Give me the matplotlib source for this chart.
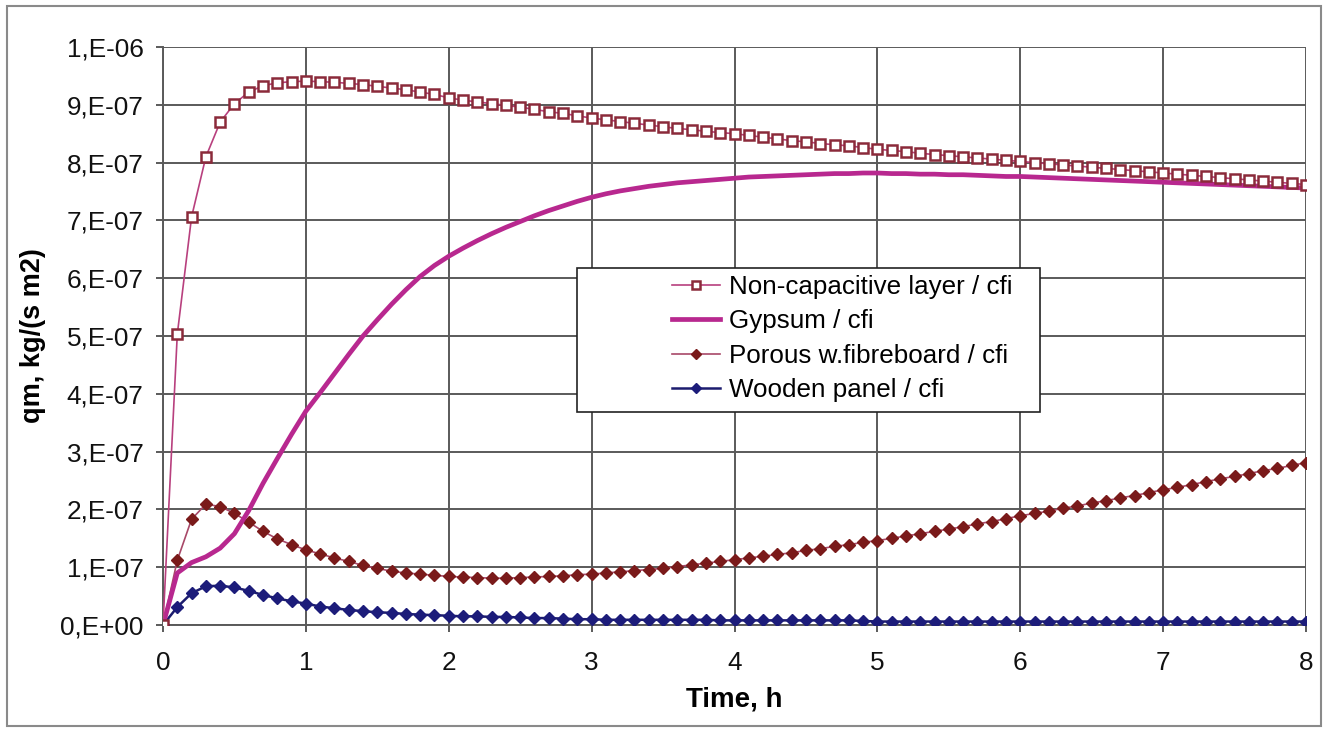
import numpy as np
import matplotlib
matplotlib.use("Agg")
import matplotlib.pyplot as plt
from matplotlib.patches import Rectangle

# ---- data (values in units of 1e-7 kg/(s m2)) ----
time_h = np.linspace(0, 8, 81)

non_capacitive = [
    0.00, 5.03, 7.06, 8.10, 8.70, 9.02, 9.22, 9.33, 9.38, 9.40,
    9.41, 9.40, 9.39, 9.37, 9.35, 9.32, 9.29, 9.26, 9.22, 9.18,
    9.12, 9.08, 9.05, 9.02, 8.99, 8.96, 8.92, 8.88, 8.85, 8.81,
    8.77, 8.74, 8.71, 8.68, 8.65, 8.62, 8.59, 8.57, 8.54, 8.52,
    8.50, 8.47, 8.44, 8.41, 8.38, 8.36, 8.33, 8.31, 8.29, 8.26,
    8.23, 8.21, 8.19, 8.16, 8.14, 8.12, 8.10, 8.08, 8.06, 8.04,
    8.02, 8.00, 7.98, 7.96, 7.94, 7.92, 7.90, 7.88, 7.86, 7.84,
    7.82, 7.80, 7.78, 7.76, 7.74, 7.72, 7.70, 7.68, 7.66, 7.64,
    7.62]

gypsum = [
    0.00, 0.90, 1.08, 1.18, 1.33, 1.58, 1.98, 2.45, 2.88, 3.30,
    3.70, 4.02, 4.35, 4.68, 5.00, 5.28, 5.55, 5.80, 6.03, 6.22,
    6.38, 6.52, 6.65, 6.77, 6.88, 6.98, 7.08, 7.17, 7.25, 7.33,
    7.40, 7.46, 7.51, 7.55, 7.59, 7.62, 7.65, 7.67, 7.69, 7.71,
    7.73, 7.75, 7.76, 7.77, 7.78, 7.79, 7.80, 7.81, 7.81, 7.82,
    7.82, 7.81, 7.81, 7.80, 7.80, 7.79, 7.79, 7.78, 7.77, 7.76,
    7.76, 7.75, 7.74, 7.73, 7.72, 7.71, 7.70, 7.69, 7.68, 7.67,
    7.66, 7.65, 7.64, 7.63, 7.62, 7.61, 7.60, 7.59, 7.58, 7.57,
    7.56]

porous_fibreboard = [
    0.00, 1.12, 1.83, 2.09, 2.05, 1.93, 1.78, 1.62, 1.49, 1.39,
    1.30, 1.23, 1.16, 1.10, 1.03, 0.98, 0.93, 0.90, 0.88, 0.86,
    0.84, 0.83, 0.82, 0.81, 0.81, 0.82, 0.83, 0.84, 0.85, 0.87,
    0.88, 0.90, 0.92, 0.94, 0.96, 0.98, 1.01, 1.04, 1.07, 1.10,
    1.13, 1.16, 1.19, 1.22, 1.25, 1.29, 1.32, 1.36, 1.39, 1.43,
    1.46, 1.50, 1.54, 1.58, 1.62, 1.66, 1.70, 1.75, 1.79, 1.84,
    1.89, 1.93, 1.97, 2.02, 2.06, 2.11, 2.15, 2.20, 2.24, 2.29,
    2.34, 2.38, 2.43, 2.48, 2.53, 2.57, 2.62, 2.67, 2.71, 2.76,
    2.81]

wooden_panel = [
    0.00, 0.31, 0.55, 0.67, 0.68, 0.65, 0.59, 0.52, 0.46, 0.41,
    0.37, 0.32, 0.29, 0.26, 0.24, 0.22, 0.21, 0.19, 0.18, 0.17,
    0.16, 0.15, 0.15, 0.14, 0.14, 0.13, 0.12, 0.12, 0.11, 0.10,
    0.10, 0.09, 0.09, 0.09, 0.09, 0.09, 0.09, 0.09, 0.09, 0.08,
    0.08, 0.08, 0.08, 0.08, 0.08, 0.08, 0.08, 0.08, 0.08, 0.07,
    0.06, 0.06, 0.06, 0.06, 0.06, 0.06, 0.06, 0.06, 0.06, 0.06,
    0.06, 0.06, 0.06, 0.06, 0.06, 0.06, 0.06, 0.06, 0.06, 0.06,
    0.06, 0.06, 0.06, 0.06, 0.06, 0.06, 0.06, 0.06, 0.06, 0.06,
    0.06]

series_labels = ["Non-capacitive layer / cfi", "Gypsum / cfi",
                 "Porous w.fibreboard / cfi", "Wooden panel / cfi"]
y_tick_values = [0, 1, 2, 3, 4, 5, 6, 7, 8, 9, 10]
y_tick_labels = ["0,E+00", "1,E-07", "2,E-07", "3,E-07", "4,E-07", "5,E-07",
                 "6,E-07", "7,E-07", "8,E-07", "9,E-07", "1,E-06"]
x_tick_values = [0, 1, 2, 3, 4, 5, 6, 7, 8]

scale = 1e-7

plt.rcParams['font.family'] = ['Liberation Sans', 'DejaVu Sans']

W, H = 1327, 732
fig = plt.figure(figsize=(W / 100, H / 100), dpi=100)
ax = fig.add_axes([163 / W, 1 - 625 / H, (1306 - 163) / W, (625 - 47) / H])

grid_col = '#5a5a5a'

nc = np.array(non_capacitive) * scale
gy = np.array(gypsum) * scale
po = np.array(porous_fibreboard) * scale
wo = np.array(wooden_panel) * scale

l1, = ax.plot(time_h, nc, color='#b8407e', lw=1.2, marker='s', ms=7.5,
              mfc='white', mec='#8b2a3a', mew=1.8, zorder=5)
l2, = ax.plot(time_h, gy, color='#b8288f', lw=3.4, zorder=4)
l3, = ax.plot(time_h, po, color='#a84868', lw=1.2, marker='D', ms=6.5,
              mfc='#7a1a1a', mec='#7a1a1a', zorder=3)
l4, = ax.plot(time_h, wo, color='#1c1c6e', lw=1.8, marker='D', ms=6.5,
              mfc='#1c1c7a', mec='#1c1c7a', zorder=3)

ax.set_xlim(0, 8)
ax.set_ylim(0, 1e-6)
ax.set_xticks(x_tick_values)
ax.set_xticklabels([str(v) for v in x_tick_values])
ax.set_yticks([v * scale for v in y_tick_values])
ax.set_yticklabels(y_tick_labels)

ax.grid(True, color=grid_col, lw=1.4)
ax.set_axisbelow(True)
for s in ['top', 'right']:
    ax.spines[s].set_visible(False)
for s in ['left', 'bottom']:
    ax.spines[s].set_color(grid_col)
    ax.spines[s].set_linewidth(1.4)

ax.tick_params(axis='both', direction='out', length=5, width=1.4,
               color=grid_col, labelsize=18.8, labelcolor='#111111')
ax.tick_params(axis='y', pad=9)
ax.tick_params(axis='x', pad=14)

ax.set_xlabel("Time, h", fontsize=20, fontweight='bold', labelpad=8)
ax.set_ylabel("qm, kg/(s m2)", fontsize=19.5, fontweight='bold', labelpad=10)

# legend frame
x0 = (577 - 163) / (1306 - 163)
x1 = (1040 - 163) / (1306 - 163)
y0 = (625 - 412) / (625 - 47)
y1 = (625 - 268) / (625 - 47)
ax.add_patch(Rectangle((x0, y0), x1 - x0, y1 - y0, transform=ax.transAxes,
                       facecolor='white', edgecolor='#222222', lw=1.2, zorder=6))

leg = ax.legend([l1, l2, l3, l4], series_labels, loc='upper left',
                bbox_to_anchor=((672 - 163) / (1306 - 163), (625 - 275) / (625 - 47)),
                frameon=False, fontsize=18.7, handlelength=1.85, handletextpad=0.33,
                labelspacing=0.40, borderpad=0, borderaxespad=0, markerscale=0.85)
leg.set_zorder(7)

# outer figure border
fig.add_artist(Rectangle((7 / W, 6 / H), (1321 - 7) / W, (726 - 6) / H,
                         transform=fig.transFigure, fill=False,
                         edgecolor='#8a8a8a', lw=1.5))

fig.savefig("out.png", dpi=100)
